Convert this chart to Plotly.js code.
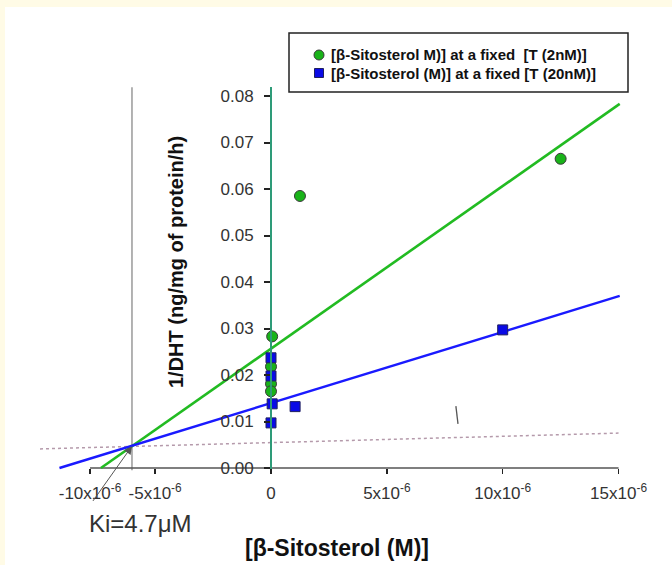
<!DOCTYPE html>
<html>
<head>
<meta charset="utf-8">
<script src="https://cdn.plot.ly/plotly-3.0.1.min.js"></script>
<style>
  html, body { margin: 0; padding: 0; background: #fffbe6; width: 672px; height: 565px; overflow: hidden; }
  #chart { position: absolute; left: 5px; top: 7px; width: 667px; height: 558px; background: #ffffff; }
</style>
</head>
<body>
<div id="chart"></div>
<script>
// ---------- data ----------
const seriesNames = ["[\u03b2-Sitosterol M)] at a fixed&nbsp;&nbsp;[T (2nM)]", "[\u03b2-Sitosterol (M)] at a fixed [T (20nM)]"];

// 2 nM T (green circles)
const greenX = [1.25e-6, 12.5e-6, 0.05e-6, 0.0, 0.0, 0.0];
const greenY = [0.0585, 0.0665, 0.0283, 0.0218, 0.0181, 0.0165];
// 20 nM T (blue squares)
const blueX = [0.0, 0.0, 0.05e-6, 1.04e-6, 0.0, 10.0e-6];
const blueY = [0.0237, 0.0198, 0.0138, 0.0132, 0.0097, 0.0297];

// fitted lines (end points)
const greenFitX = [-7.34e-6, 15.05e-6];
const greenFitY = [0.0, 0.0783];
const blueFitX = [-9.13e-6, 15.05e-6];
const blueFitY = [0.0, 0.0370];

// dotted baseline
const dotX = [-9.97e-6, 15.0e-6];
const dotY = [0.0041, 0.0075];

// Ki intersection and vertical line
const kiX = -6.0e-6;
const kiY = 0.0047;
const kiLineY = [-0.0005, 0.0819];
const kiLabel = "Ki=4.7\u03bcM";

// stray mark
const strayX = [7.98e-6, 8.07e-6];
const strayY = [0.0133, 0.0095];

// axes
const xTickVals = [-7.81e-6, -5e-6, 0, 5e-6, 10e-6, 15e-6];
const xTickText = ["-10x10<sup>-6</sup>", "-5x10<sup>-6</sup>", "0", "5x10<sup>-6</sup>", "10x10<sup>-6</sup>", "15x10<sup>-6</sup>"];
const xAxisLineX = [-7.81e-6, 15.0e-6];
const yTickVals = [0, 0.01, 0.02, 0.03, 0.04, 0.05, 0.06, 0.07, 0.08];
const yTickText = ["0.00", "0.01", "0.02", "0.03", "0.04", "0.05", "0.06", "0.07", "0.08"];
const xTitle = "[\u03b2-Sitosterol (M)]";
const yTitle = "1/DHT (ng/mg of protein/h)";

// ---------- layout geometry (page pixels -> paper) ----------
const W = 667, H = 558, offX = 5, offY = 7;
const M = { l: 24, r: 48, t: 80, b: 91 };
const pw = W - M.l - M.r, ph = H - M.t - M.b;
const px = X => (X - offX - M.l) / pw;
const py = Y => (offY + M.t + ph - Y) / ph;

const font = "Liberation Sans, Arial, sans-serif";
const GREEN = "#22bb22", BLUE = "#1a1aff";

const traces = [
  { x: dotX, y: dotY, mode: "lines", line: { color: "#b59aab", width: 1.5, dash: "dot" }, hoverinfo: "skip", showlegend: false },
  { x: [kiX, kiX], y: kiLineY, mode: "lines", line: { color: "#8a8a8a", width: 1.3 }, hoverinfo: "skip", showlegend: false },
  { x: xAxisLineX, y: [0, 0], mode: "lines", line: { color: "#555555", width: 1.5 }, hoverinfo: "skip", showlegend: false },
  { x: strayX, y: strayY, mode: "lines", line: { color: "#555555", width: 1.3 }, hoverinfo: "skip", showlegend: false },
  { x: greenFitX, y: greenFitY, mode: "lines", line: { color: GREEN, width: 2.6 }, showlegend: false },
  { x: blueFitX, y: blueFitY, mode: "lines", line: { color: BLUE, width: 2.4 }, showlegend: false },
  { x: greenX, y: greenY, mode: "markers", name: seriesNames[0], showlegend: false,
    marker: { symbol: "circle", size: 11, color: "#19b319", line: { color: "#3a3a3a", width: 1 } } },
  { x: blueX, y: blueY, mode: "markers", name: seriesNames[1], showlegend: false,
    marker: { symbol: "square", size: 10, color: "#0a0ae6", line: { color: "#202060", width: 1 } } }
];

const xRange = [(offX + M.l - 271) / 23.17 * 1e-6, (W - M.r + offX - 271) / 23.17 * 1e-6];
const yRange = [(468 - (offY + M.t + ph)) / 4650, (468 - (offY + M.t)) / 4650];

const layout = {
  width: W, height: H,
  margin: M,
  paper_bgcolor: "#ffffff",
  plot_bgcolor: "rgba(0,0,0,0)",
  showlegend: false,
  font: { family: font, color: "#333333" },
  xaxis: {
    range: xRange, anchor: "free", position: py(468),
    showgrid: false, zeroline: false, showline: false,
    tickmode: "array", tickvals: xTickVals, ticktext: xTickText,
    ticks: "outside", ticklen: 5, tickwidth: 1.5, tickcolor: "#222222",
    tickfont: { family: font, size: 17, color: "#333333" },
    ticklabelstandoff: 5
  },
  yaxis: {
    range: yRange, anchor: "free", position: px(271),
    showgrid: false, zeroline: false,
    showline: true, linecolor: "#2e9b78", linewidth: 2,
    tickmode: "array", tickvals: yTickVals, ticktext: yTickText,
    ticks: "outside", ticklen: 6, tickwidth: 2, tickcolor: "#222222",
    tickfont: { family: font, size: 17, color: "#333333" },
    ticklabelstandoff: 7
  },
  shapes: [
    { type: "rect", xref: "paper", yref: "paper", x0: px(289), x1: px(628), y0: py(92), y1: py(33),
      line: { color: "#222222", width: 1.5 }, fillcolor: "rgba(255,255,255,0)" },
    { type: "circle", xref: "paper", yref: "paper", x0: px(314), x1: px(324), y0: py(60), y1: py(50),
      line: { color: "#3a3a3a", width: 1 }, fillcolor: "#19b319" },
    { type: "rect", xref: "paper", yref: "paper", x0: px(314.5), x1: px(323.5), y0: py(77.5), y1: py(68.5),
      line: { color: "#202060", width: 1 }, fillcolor: "#0a0ae6" }
  ],
  annotations: [
    { xref: "paper", yref: "paper", x: px(329), y: py(55), xanchor: "left", yanchor: "middle",
      text: seriesNames[0], showarrow: false, font: { family: font, size: 15, color: "#111111", weight: "bold" } },
    { xref: "paper", yref: "paper", x: px(329), y: py(73), xanchor: "left", yanchor: "middle",
      text: seriesNames[1], showarrow: false, font: { family: font, size: 15, color: "#111111", weight: "bold" } },
    { xref: "paper", yref: "paper", x: px(337), y: py(548), xanchor: "center", yanchor: "middle",
      text: "<b>" + xTitle + "</b>", showarrow: false, font: { family: font, size: 23, color: "#111111" } },
    { xref: "paper", yref: "paper", x: px(176), y: py(262), xanchor: "center", yanchor: "middle", textangle: -90,
      text: "<b>" + yTitle + "</b>", showarrow: false, font: { family: font, size: 20, color: "#111111" } },
    { xref: "x", yref: "y", x: kiX, y: kiY, text: " ", showarrow: true, arrowhead: 2, arrowsize: 1.6, arrowwidth: 1,
      arrowcolor: "#555555", ax: -42, ay: 59 },
    { xref: "paper", yref: "paper", x: px(140), y: py(523), xanchor: "center", yanchor: "middle",
      text: kiLabel, showarrow: false, font: { family: font, size: 24, color: "#333333" } }
  ]
};

Plotly.newPlot("chart", traces, layout, { displayModeBar: false, staticPlot: true });
</script>
</body>
</html>
